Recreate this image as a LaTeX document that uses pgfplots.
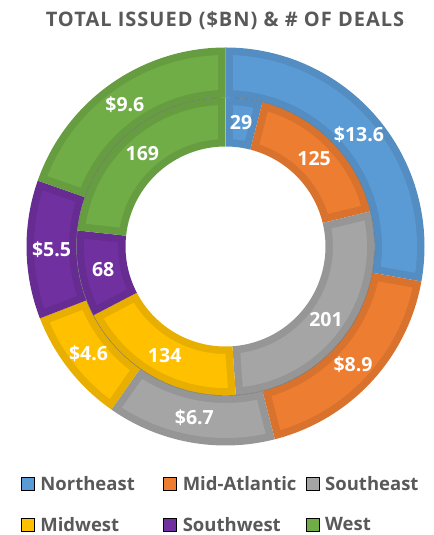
\documentclass[border=0pt]{standalone}
\usepackage{fontspec}
\setmainfont{Open Sans}
\newfontfamily\titlefont[LetterSpace=5]{Open Sans}
\usepackage{pgfplots}
\usepackage{pgfplotstable}
\pgfplotsset{compat=1.18}

\definecolor{reg0}{HTML}{5B9BD5}
\definecolor{reg1}{HTML}{ED7D31}
\definecolor{reg2}{HTML}{A5A5A5}
\definecolor{reg3}{HTML}{FFC000}
\definecolor{reg4}{HTML}{7030A0}
\definecolor{reg5}{HTML}{70AD47}
\definecolor{txtgray}{HTML}{595959}

\pgfplotstableread{
region dollars deals
Northeast 13.6 29
Mid-Atlantic 8.9 125
Southeast 6.7 201
Midwest 4.6 134
Southwest 5.5 68
West 9.6 169
}\regiondata

% centre and radii of the doughnut, in axis units (= bp)
\def\cx{225.5}
\def\cy{288.5}
\def\bevel{7.5}

\newcommand\colsum[2]{%
  \pgfmathsetmacro#2{0}%
  \pgfplotsforeachungrouped \i in {0,...,5}{%
    \pgfplotstablegetelem{\i}{#1}\of\regiondata
    \pgfmathsetmacro#2{#2+\pgfplotsretval}}}

% #1 column, #2 inner radius, #3 outer radius, #4 label prefix
\newcommand\drawring[4]{%
  \colsum{#1}{\total}%
  \def\acur{90}%
  \pgfplotsforeachungrouped \i in {0,...,5}{%
    \pgfplotstablegetelem{\i}{#1}\of\regiondata
    \let\val\pgfplotsretval
    \pgfmathsetmacro\anext{\acur-\val/\total*360}%
    \pgfmathsetmacro\amid{(\acur+\anext)/2}%
    \pgfmathsetmacro\rlab{(#2+#3)/2}%
    \pgfmathsetmacro\lx{\cx+\rlab*cos(\amid)}%
    \pgfmathsetmacro\ly{\cy+\rlab*sin(\amid)}%
    \pgfmathsetmacro\rinb{#2+\bevel}%
    \pgfmathsetmacro\routb{#3-\bevel}%
    \pgfmathsetmacro\aoa{\acur-\bevel/\routb*180/pi}%
    \pgfmathsetmacro\aob{\anext+\bevel/\routb*180/pi}%
    \pgfmathsetmacro\aia{\acur-\bevel/\rinb*180/pi}%
    \pgfmathsetmacro\aib{\anext+\bevel/\rinb*180/pi}%
    \pgfmathsetmacro\ix{\cx+\rinb*cos(\aib)}%
    \pgfmathsetmacro\iy{\cy+\rinb*sin(\aib)}%
    \edef\cmd{%
      \noexpand\fill[reg\i!91!black] (axis cs:\cx,\cy) ++(\acur:#3bp)
        arc[start angle=\acur,end angle=\anext,radius=#3bp]
        -- ++(\anext:{#2bp-#3bp})
        arc[start angle=\anext,end angle=\acur,radius=#2bp] -- cycle;
      \noexpand\fill[reg\i] (axis cs:\cx,\cy) ++(\aoa:\routb bp)
        arc[start angle=\aoa,end angle=\aob,radius=\routb bp]
        -- (axis cs:\ix,\iy)
        arc[start angle=\aib,end angle=\aia,radius=\rinb bp] -- cycle;
      \noexpand\node[text=white,font=\noexpand\fontsize{19.5bp}{23bp}\noexpand\selectfont\noexpand\bfseries]
        at (axis cs:\lx,\ly) {#4\val};
    }\cmd
    \let\acur\anext
  }}

\begin{document}
\begin{tikzpicture}
\path[use as bounding box] (0,0) rectangle (434bp,535bp);
\begin{axis}[
    width=434bp, height=535bp, scale only axis,
    xmin=0, xmax=434, ymin=0, ymax=535,
    hide axis, clip=false,
    legend columns=3,
    legend cell align=left,
    legend image code/.code={\fill[#1] (0bp,-6.5bp) rectangle (13bp,6.5bp);},
    legend style={
        draw=none, fill=none, inner sep=0pt, outer sep=0pt,
        at={(axis description cs:0.04839,0.13364)}, anchor=north west,
        nodes={inner sep=0pt, text width=123bp, minimum height=41bp, align=left,
               text=txtgray, font=\fontsize{18.5bp}{22bp}\selectfont\bfseries},
        /tikz/every odd column/.append style={column sep=6bp}
    }
]
\drawring{dollars}{149}{199}{\noexpand\$}
\drawring{deals}{100}{149}{}
\draw[black!55, line width=0.4bp] (axis cs:\cx,\cy) circle[radius=149bp];

\addlegendimage{fill=reg0}\addlegendentry{Northeast}
\addlegendimage{fill=reg1}\addlegendentry{Mid-Atlantic}
\addlegendimage{fill=reg2}\addlegendentry{Southeast}
\addlegendimage{fill=reg3}\addlegendentry{Midwest}
\addlegendimage{fill=reg4}\addlegendentry{Southwest}
\addlegendimage{fill=reg5}\addlegendentry{West}

\node[anchor=base, text=txtgray, font=\titlefont\fontsize{20bp}{24bp}\selectfont\bfseries]
  at (axis cs:225,508) {TOTAL ISSUED (\$BN) \& \# OF DEALS};
\end{axis}
\end{tikzpicture}
\end{document}
